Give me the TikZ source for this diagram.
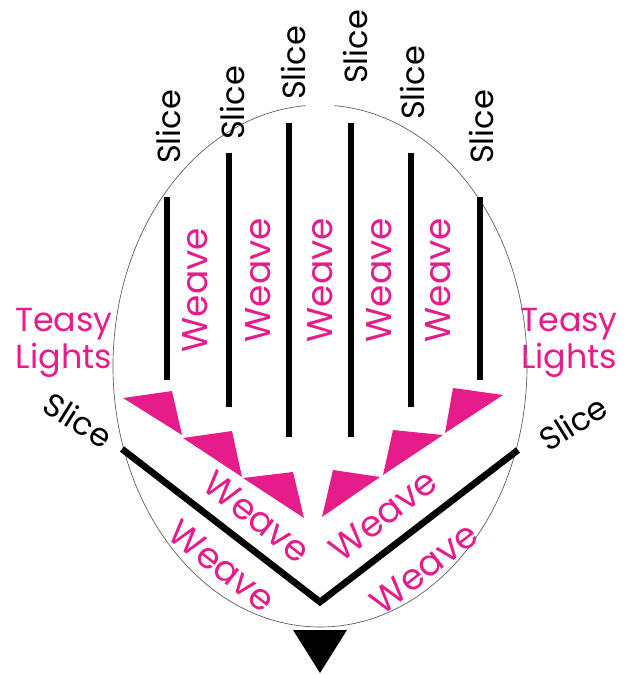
\documentclass[tikz,border=0pt]{standalone}
\usepackage{fontspec}
\setmainfont{Poppins}
\definecolor{teasypink}{RGB}{230,28,138}
\tikzset{
  slicetxt/.style={font=\fontsize{24}{24}\selectfont, text=black, inner sep=0pt},
  weavetxt/.style={font=\fontsize{27}{27}\selectfont, text=teasypink, inner sep=0pt},
  lightstxt/.style={font=\fontsize{25}{28}\selectfont, text=teasypink, align=center, inner sep=0pt},
  bar/.style={line width=4.5pt},
  flag/.style={fill=teasypink}
}

\begin{document}
\begin{tikzpicture}[x=0.75pt,y=-0.75pt]
		\useasboundingbox (0,0) rectangle (633,675);
		%Outline
		\coordinate (E) at (320,366);
		\draw[gray!70!black, line width=0.5pt] (E) ++(274:207 and 261) arc[start angle=274, end angle=626, x radius=207, y radius=261];
		%Slice bars
		\draw[bar] (167,197)--(167,380);
		\draw[bar] (229,153)--(229,407);
		\draw[bar] (289,123)--(289,437);
		\draw[bar] (351,123)--(351,437);
		\draw[bar] (411,153)--(411,407);
		\draw[bar] (480,197)--(480,380);
		\node[slicetxt, rotate=90] (s1) at (168,127) {Slice};
		\node[slicetxt, rotate=90] (s2) at (232,103) {Slice};
		\node[slicetxt, rotate=90] (s3) at (293,63) {Slice};
		\node[slicetxt, rotate=90] (s4) at (355,47) {Slice};
		\node[slicetxt, rotate=90] (s5) at (412,83) {Slice};
		\node[slicetxt, rotate=90] (s6) at (481,127) {Slice};
		%Weave columns
		\node[weavetxt, rotate=90] (w1) at (195,290) {Weave};
		\node[weavetxt, rotate=90] (w2) at (258,280) {Weave};
		\node[weavetxt, rotate=90] (w3) at (320,280) {Weave};
		\node[weavetxt, rotate=90] (w4) at (379,280) {Weave};
		\node[weavetxt, rotate=90] (w5) at (438,280) {Weave};
		%Teasy lights
		\node[lightstxt] (tl) at (64,343) {Teasy\\Lights};
		\node[lightstxt] (tr) at (569,343) {Teasy\\Lights};
		%Flags left
		\fill[flag] (123,398)--(172,391)--(182,435)--cycle;
		\fill[flag] (183,438)--(232,431)--(242,477)--cycle;
		\fill[flag] (243,478)--(293,472)--(304,518)--cycle;
		%Flags right
		\fill[flag] (322,517)--(333,470)--(380,477)--cycle;
		\fill[flag] (383,475)--(393,430)--(443,435)--cycle;
		\fill[flag] (445,433)--(453,388)--(503,395)--cycle;
		%Vee
		\coordinate (vl) at (122,449);
		\coordinate (vb) at (320,602);
		\coordinate (vr) at (518,450);
		\draw[line width=5pt, line join=miter] (vl)--(vb)--(vr);
		\node[slicetxt, rotate=-32] (sl) at (78,420) {Slice};
		\node[slicetxt, rotate=32] (sr) at (573,423) {Slice};
		\node[weavetxt, rotate=-38] (wil) at (257,517) {Weave};
		\node[weavetxt, rotate=38] (wir) at (383,515) {Weave};
		\node[weavetxt, rotate=-38] (wol) at (222,566) {Weave};
		\node[weavetxt, rotate=38] (wor) at (424,568) {Weave};
		%Tip
		\fill (293,630)--(347,630)--(320,673)--cycle;
		
\end{tikzpicture}
\end{document}
